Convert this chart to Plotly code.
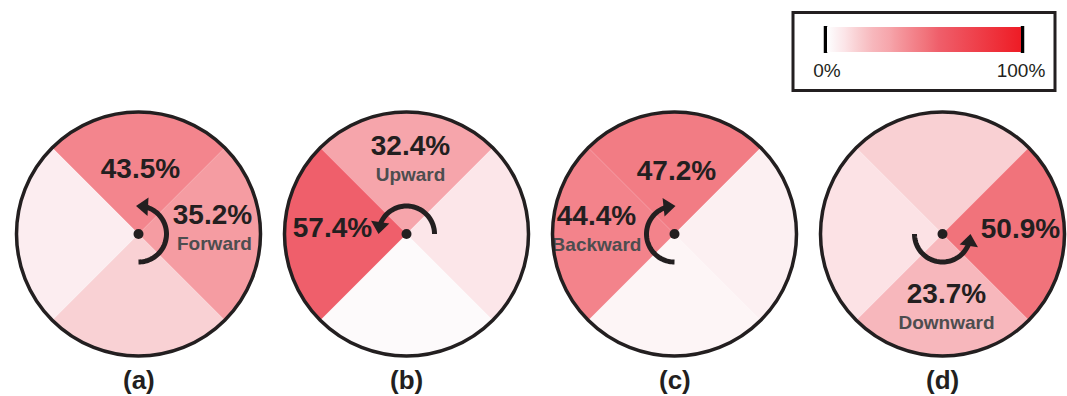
import numpy as np
import plotly.graph_objects as go

# ---- data -------------------------------------------------------------
panels = ["(a)", "(b)", "(c)", "(d)"]
motions = ["Forward", "Upward", "Backward", "Downward"]
quadrants = ["Top", "Right", "Bottom", "Left"]
quadrant_theta = [90, 0, 270, 180]

share_top = [43.5, 32.4, 47.2, 15.6]
share_right = [35.2, 8.5, 5.0, 50.9]
share_bottom = [15.3, 1.7, 3.4, 23.7]
share_left = [6.0, 57.4, 44.4, 9.8]

scale_ticks = [0, 100]
scale_labels = ["0%", "100%"]

# ---- styling ----------------------------------------------------------
W, H = 1067, 396
R = 122                      # disc radius in px
CY = 234                     # disc centre (px from top)
CX = [138.5, 406.5, 674.5, 942.5]
INK = "#231F20"
GREY = "#4D4D4F"
FONT = "Liberation Sans, Arial, Helvetica, sans-serif"

heat = [
    [0.000, "#FFFFFF"],
    [0.020, "#FDF9FA"],
    [0.050, "#FCF0F2"],
    [0.090, "#FCE5E8"],
    [0.155, "#F9D0D3"],
    [0.237, "#F7B7BC"],
    [0.324, "#F6A5AB"],
    [0.352, "#F59CA2"],
    [0.440, "#F3848C"],
    [0.472, "#F27C84"],
    [0.509, "#F1737B"],
    [0.574, "#EF5F6B"],
    [1.000, "#EE1C25"],
]

# which quadrants carry a label in each panel: (quadrant index, dx, dy, show motion name)
label_spots = [
    [(0, 2, -63, False), (1, 74, -17, True)],
    [(0, 4, -86, True), (3, -74, -4, False)],
    [(0, 2, -61, False), (3, -78, -16, True)],
    [(1, 78, -3, False), (2, 4, 62, True)],
]
NAME_GAP = 28

# curved arrow per panel: start angle, tip angle, turning sense (+1 ccw)
arrows = [(-90, 95, 1), (0, 180, 1), (270, 88, -1), (180, 360, 1)]
ARC_R = 28 / R
HEAD = 16


def polar_of(dx, dy):
    r = np.hypot(dx, dy) / R
    th = np.degrees(np.arctan2(-dy, dx))
    return r, th


fig = go.Figure()
layout_polars = {}

for i, tag in enumerate(panels):
    shares = [share_top[i], share_right[i], share_bottom[i], share_left[i]]
    pid = "polar" if i == 0 else f"polar{i + 1}"
    sub = pid

    fig.add_trace(go.Barpolar(
        r=[1, 1, 1, 1], theta=quadrant_theta, width=[90] * 4,
        marker=dict(color=shares, coloraxis="coloraxis", line=dict(width=0)),
        subplot=sub, hoverinfo="skip", showlegend=False,
    ))

    # rotation arrow
    a0, a1, s = arrows[i]
    head_c = a1 - s * np.degrees(HEAD / 2 / 28)
    th_line = np.linspace(a0, head_c, 60)
    fig.add_trace(go.Scatterpolar(
        r=[ARC_R] * len(th_line), theta=th_line, mode="lines",
        line=dict(color=INK, width=5), subplot=sub,
        hoverinfo="skip", showlegend=False,
    ))
    direction = (head_c + a1) / 2 + s * 90
    fig.add_trace(go.Scatterpolar(
        r=[ARC_R], theta=[head_c], mode="markers",
        marker=dict(symbol="triangle-up", size=HEAD, color=INK,
                    angle=90 - direction, line=dict(width=0)),
        subplot=sub, hoverinfo="skip", showlegend=False,
    ))

    # centre pivot
    fig.add_trace(go.Scatterpolar(
        r=[0], theta=[0], mode="markers",
        marker=dict(size=10, color=INK), subplot=sub,
        hoverinfo="skip", showlegend=False,
    ))

    # value labels
    for q, dx, dy, named in label_spots[i]:
        r, th = polar_of(dx, dy)
        fig.add_trace(go.Scatterpolar(
            r=[r], theta=[th], mode="text", text=[f"{shares[q]:.1f}%"],
            textfont=dict(family=FONT, size=28, color=INK, weight="bold"),
            subplot=sub, hoverinfo="skip", showlegend=False,
        ))
        if named:
            r2, th2 = polar_of(dx + (2 if dx > 10 else 0), dy + NAME_GAP)
            fig.add_trace(go.Scatterpolar(
                r=[r2], theta=[th2], mode="text", text=[motions[i]],
                textfont=dict(family=FONT, size=19, color=GREY, weight="bold"),
                subplot=sub, hoverinfo="skip", showlegend=False,
            ))

    layout_polars[pid] = dict(
        domain=dict(x=[(CX[i] - R) / W, (CX[i] + R) / W],
                    y=[1 - (CY + R) / H, 1 - (CY - R) / H]),
        bgcolor="white", bargap=0, hole=0,
        radialaxis=dict(visible=False, range=[0, 1]),
        angularaxis=dict(direction="counterclockwise", rotation=0,
                         showgrid=False, showticklabels=False, ticks="",
                         showline=True, linecolor=INK, linewidth=3.5),
    )

annotations = [
    dict(x=CX[i] / W, y=1 - 380 / H, xref="paper", yref="paper",
         xanchor="center", yanchor="middle",
         text=f"<b>{tag}</b>", showarrow=False,
         font=dict(family=FONT, size=26, color=INK))
    for i, tag in enumerate(panels)
]

bar_x0, bar_x1, bar_y0, bar_y1 = 827, 1021, 27, 52


def px(x):
    return x / W


def py(y):
    return 1 - y / H


shapes = [
    dict(type="rect", xref="paper", yref="paper",
         x0=px(793), x1=px(1055), y0=py(12.5), y1=py(90.5),
         line=dict(color=INK, width=3), fillcolor="rgba(0,0,0,0)"),
    dict(type="line", xref="paper", yref="paper",
         x0=px(bar_x0 - 1.5), x1=px(bar_x0 - 1.5),
         y0=py(bar_y0 - 1), y1=py(bar_y1 + 1),
         line=dict(color="black", width=3.5)),
    dict(type="line", xref="paper", yref="paper",
         x0=px(bar_x1 + 1.5), x1=px(bar_x1 + 1.5),
         y0=py(bar_y0 - 1), y1=py(bar_y1 + 1),
         line=dict(color="black", width=3.5)),
]

fig.update_layout(
    width=W, height=H,
    margin=dict(l=0, r=0, t=0, b=0),
    paper_bgcolor="white", plot_bgcolor="white",
    font=dict(family=FONT, color=INK),
    coloraxis=dict(
        cmin=0, cmax=100, colorscale=heat,
        colorbar=dict(
            orientation="h", x=px((bar_x0 + bar_x1) / 2), xanchor="center",
            y=py(bar_y0), yanchor="top",
            len=bar_x1 - bar_x0, lenmode="pixels",
            thickness=bar_y1 - bar_y0, thicknessmode="pixels",
            xpad=0, ypad=0, outlinewidth=0,
            tickvals=scale_ticks, ticktext=scale_labels,
            ticks="outside", ticklen=3, tickcolor="rgba(0,0,0,0)",
            tickfont=dict(family=FONT, size=19, color=INK),
        ),
    ),
    annotations=annotations,
    shapes=shapes,
    **layout_polars,
)

fig.write_html("out.html")
